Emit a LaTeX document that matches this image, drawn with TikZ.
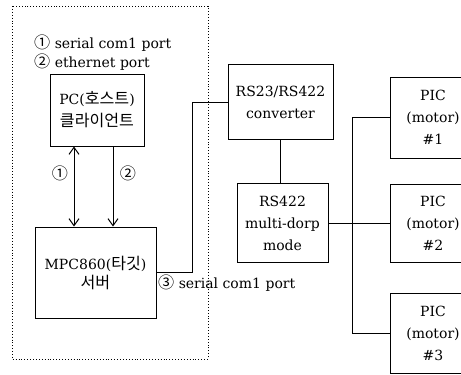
\documentclass[tikz,border=0pt]{standalone}
\usepackage{fontspec}
\setmainfont{DejaVu Serif}
\newfontfamily\kr[Scale=1.15]{Noto Sans CJK KR}
\usetikzlibrary{arrows.meta}
\tikzset{
  blk/.style={draw, line width=1pt, align=center, inner sep=0pt, font=\fontsize{14}{22}\selectfont},
  lbl/.style={inner sep=0pt, font=\fontsize{14}{15}\selectfont},
  wire/.style={line width=0.9pt},
  arr/.style={line width=1pt, -{Straight Barb[length=7pt,width=10pt]}},
}
\begin{document}
\begin{tikzpicture}[x=1pt,y=-1pt]
\useasboundingbox (0,0) rectangle (461,375);
\clip (0,0) rectangle (461,375);
% dotted frame
\draw[dotted, line width=0.9pt] (12,6) rectangle (208,359);
% legend
\node[lbl, anchor=west] (l1) at (34,43) {{\kr ①} serial com1 port};
\node[lbl, anchor=west] (l2) at (34,62) {{\kr ②} ethernet port};
% boxes
\node[blk, minimum width=94pt, minimum height=72pt] (pc) at (97,110) {PC({\kr 호스트})\\{\kr 클라이언트}};
\node[blk, minimum width=121pt, minimum height=91pt] (mpc) at (95.5,272.5) {MPC860({\kr 타깃})\\[-3pt]{\kr 서버}};
\node[blk, minimum width=105pt, minimum height=75pt] (conv) at (280.5,102) {RS23/RS422\\converter};
\node[blk, minimum width=91pt, minimum height=79pt] (rs) at (282.5,223) {RS422\\multi-dorp\\mode};
\node[blk, minimum width=86pt, minimum height=81pt] (p1) at (433,117.5) {PIC\\(motor)\\\#1};
\node[blk, minimum width=86pt, minimum height=78pt] (p2) at (433,223) {PIC\\(motor)\\\#2};
\node[blk, minimum width=86pt, minimum height=80pt] (p3) at (433,333) {PIC\\(motor)\\\#3};
% arrows between PC and MPC
\coordinate (a1t) at (74,0);
\coordinate (a2t) at (113,0);
\draw[arr, {Straight Barb[length=7pt,width=10pt]}-{Straight Barb[length=7pt,width=10pt]}] (pc.south -| a1t) -- (mpc.north -| a1t);
\draw[arr] (pc.south -| a2t) -- (mpc.north -| a2t);
\node[lbl] (n1) at (60,173) {\kr ①};
\node[lbl] (n2) at (128,173) {\kr ②};
% serial link
\coordinate (j1) at (192,102);
\draw[wire] (mpc.east) -| (j1) -- (conv.west);
\node[lbl, anchor=west] (l3) at (158,283) {{\kr ③} serial com1 port};
% converter to RS422
\draw[wire] (conv.south) -- (conv.south |- rs.north);
% bus
\coordinate (bus) at (352,0);
\draw[wire] (p1.west) -- (p1.west -| bus) -- (p3.west -| bus) -- (p3.west);
\draw[wire] (rs.east) -- (p2.west);
\end{tikzpicture}
\end{document}
